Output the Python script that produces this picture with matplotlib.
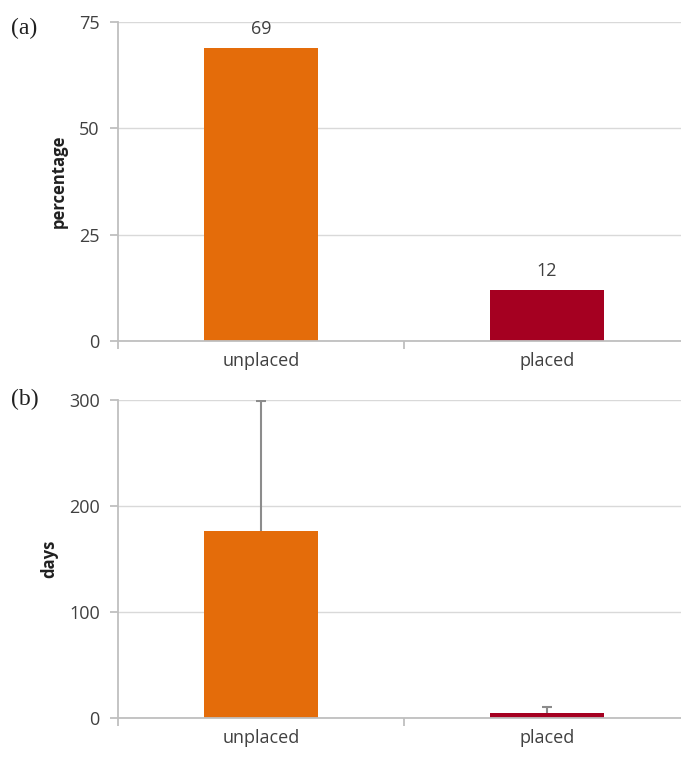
import numpy as np
import matplotlib
matplotlib.use('Agg')
import matplotlib.pyplot as plt

# Дані: частка (%) та тривалість (дні) для двох груп
groups = ['unplaced', 'placed']
percent = [69, 12]
days_mean = [176, 5]
days_err = [123, 5]

colors = ['#E46C0A', '#A50021']
grid_c = '#D9D9D9'
axis_c = '#BFBFBF'
text_c = '#404040'

plt.rcParams['font.family'] = ['Open Sans', 'DejaVu Sans']

fig = plt.figure(figsize=(6.81, 7.57), dpi=100)
ax1 = fig.add_axes([0.173, 0.5495, 0.84, 0.4214])
ax2 = fig.add_axes([0.173, 0.0515, 0.84, 0.420])

x = np.arange(len(groups))


def style(ax, top, step, ylabel):
    ax.set_xlim(-0.5, 1.5)
    ax.set_ylim(0, top)
    ax.set_yticks(np.arange(0, top + 1, step))
    ax.yaxis.grid(True, color=grid_c, linewidth=1)
    ax.set_axisbelow(True)
    for s in ['top', 'right']:
        ax.spines[s].set_visible(False)
    for s in ['left', 'bottom']:
        ax.spines[s].set_color(axis_c)
        ax.spines[s].set_linewidth(1.3)
    ax.set_xticks([-0.5, 0.5, 1.5])
    ax.set_xticklabels([])
    ax.set_xticks(x, minor=True)
    ax.set_xticklabels(groups, minor=True)
    ax.tick_params(axis='x', which='major', length=6, color=axis_c, width=1.3)
    ax.tick_params(axis='x', which='minor', length=0, pad=8,
                   labelsize=13, labelcolor=text_c)
    ax.tick_params(axis='y', length=6, color=axis_c, width=1.3,
                   labelsize=13, labelcolor=text_c, pad=7)
    ax.set_ylabel(ylabel, fontsize=12, fontweight='bold', color='#202020',
                  labelpad=8)


# (a) відсоток
style(ax1, 75, 25, 'percentage')
bars = ax1.bar(x, percent, width=0.4, color=colors)
for b, v in zip(bars, percent):
    ax1.text(b.get_x() + b.get_width() / 2, v + 2.3, str(v), ha='center',
             va='bottom', fontsize=13, color=text_c)

# (b) дні, з похибкою лише вгору
style(ax2, 300, 100, 'days')
ax2.bar(x, days_mean, width=0.4, color=colors)
eb = ax2.errorbar(x, days_mean, yerr=[np.zeros(len(x)), days_err], fmt='none',
                  ecolor='#8C8C8C', elinewidth=1.5, capsize=3.5, capthick=1.5)
eb[1][0].set_visible(False)

fig.text(0.016, 0.963, '(a)', fontsize=17, family='Liberation Serif',
         color='#202020', va='center')
fig.text(0.016, 0.472, '(b)', fontsize=17, family='Liberation Serif',
         color='#202020', va='center')

fig.savefig('out.png', dpi=100, facecolor='white')
